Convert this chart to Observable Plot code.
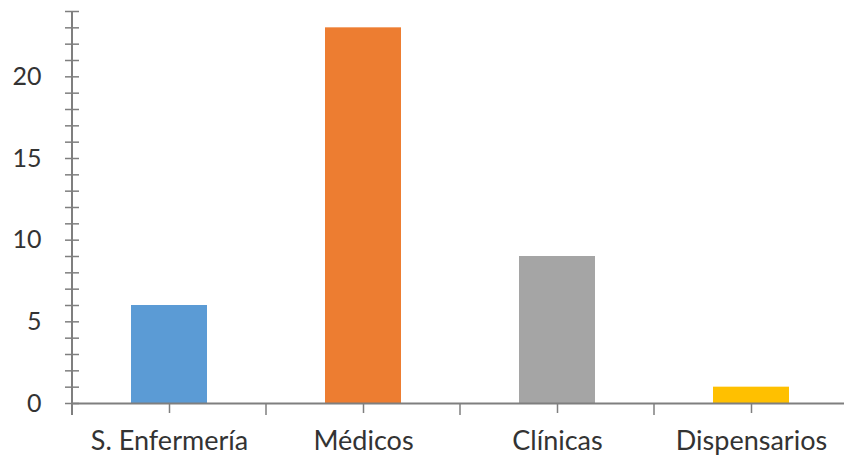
<!DOCTYPE html>
<html>
<head>
<meta charset="utf-8">
<script src="https://cdn.jsdelivr.net/npm/d3@7"></script>
<script src="https://cdn.jsdelivr.net/npm/@observablehq/plot@0.6"></script>
<style>
  html, body { margin: 0; padding: 0; background: #fff; }
  #chart svg { display: block; overflow: visible; }
</style>
</head>
<body>
<div id="chart"></div>
<script>
// Recursos de salud por tipo
const categories = ["S. Enfermería", "Médicos", "Clínicas", "Dispensarios"];
const counts = [6, 23, 9, 1];
const barColors = ["#5B9BD5", "#ED7D31", "#A5A5A5", "#FFC000"];
const yLabelTicks = [0, 5, 10, 15, 20];
const yMinorTicks = d3.range(0, 25);

const data = categories.map((c, i) => ({category: c, value: counts[i], color: barColors[i]}));

const axisColor = "#7f7f7f";
const textColor = "#333333";

const chart = Plot.plot({
  width: 844,
  height: 459,
  marginLeft: 72,
  marginRight: -4,
  marginTop: 11,
  marginBottom: 56,
  style: {fontFamily: "Lato, 'Open Sans', sans-serif", fontSize: "25px", color: textColor, background: "#fff"},
  x: {domain: categories, paddingInner: 0.61, paddingOuter: 0.305, align: 0.5},
  y: {domain: [0, 24]},
  marks: [
    Plot.barY(data, {x: "category", y: "value", fill: "color"}),
    Plot.ruleY([0], {stroke: axisColor, strokeWidth: 2}),
    // unit ticks crossing the vertical axis
    Plot.axisY({ticks: yMinorTicks, tickSize: 14, dx: 7, tickFormat: () => "", stroke: axisColor, strokeWidth: 1.5, label: null}),
    // labelled values
    Plot.axisY({ticks: yLabelTicks, tickSize: 0, tickPadding: 31, fill: textColor, label: null}),
    Plot.axisX({tickSize: 10, tickPadding: 17, stroke: axisColor, strokeWidth: 1.5, fill: textColor, fontSize: 27, label: null})
  ]
});

document.getElementById("chart").appendChild(chart);

// vertical axis line and category boundary ticks, placed through the plot's own scales
const xs = chart.scale("x");
const ys = chart.scale("y");
const svg = d3.select(chart);
const y0 = ys.apply(0);
const yTop = ys.apply(ys.domain[1]);
const bandStart = (c) => xs.apply(c) + xs.bandwidth / 2 - xs.step / 2;
const g = svg.append("g").attr("stroke", axisColor);
g.append("line")
  .attr("x1", bandStart(categories[0])).attr("x2", bandStart(categories[0]))
  .attr("y1", yTop).attr("y2", y0 + 12)
  .attr("stroke-width", 2);
categories.slice(1).forEach(c => {
  g.append("line")
    .attr("x1", bandStart(c)).attr("x2", bandStart(c))
    .attr("y1", y0).attr("y2", y0 + 12)
    .attr("stroke-width", 1.5);
});
</script>
</body>
</html>
